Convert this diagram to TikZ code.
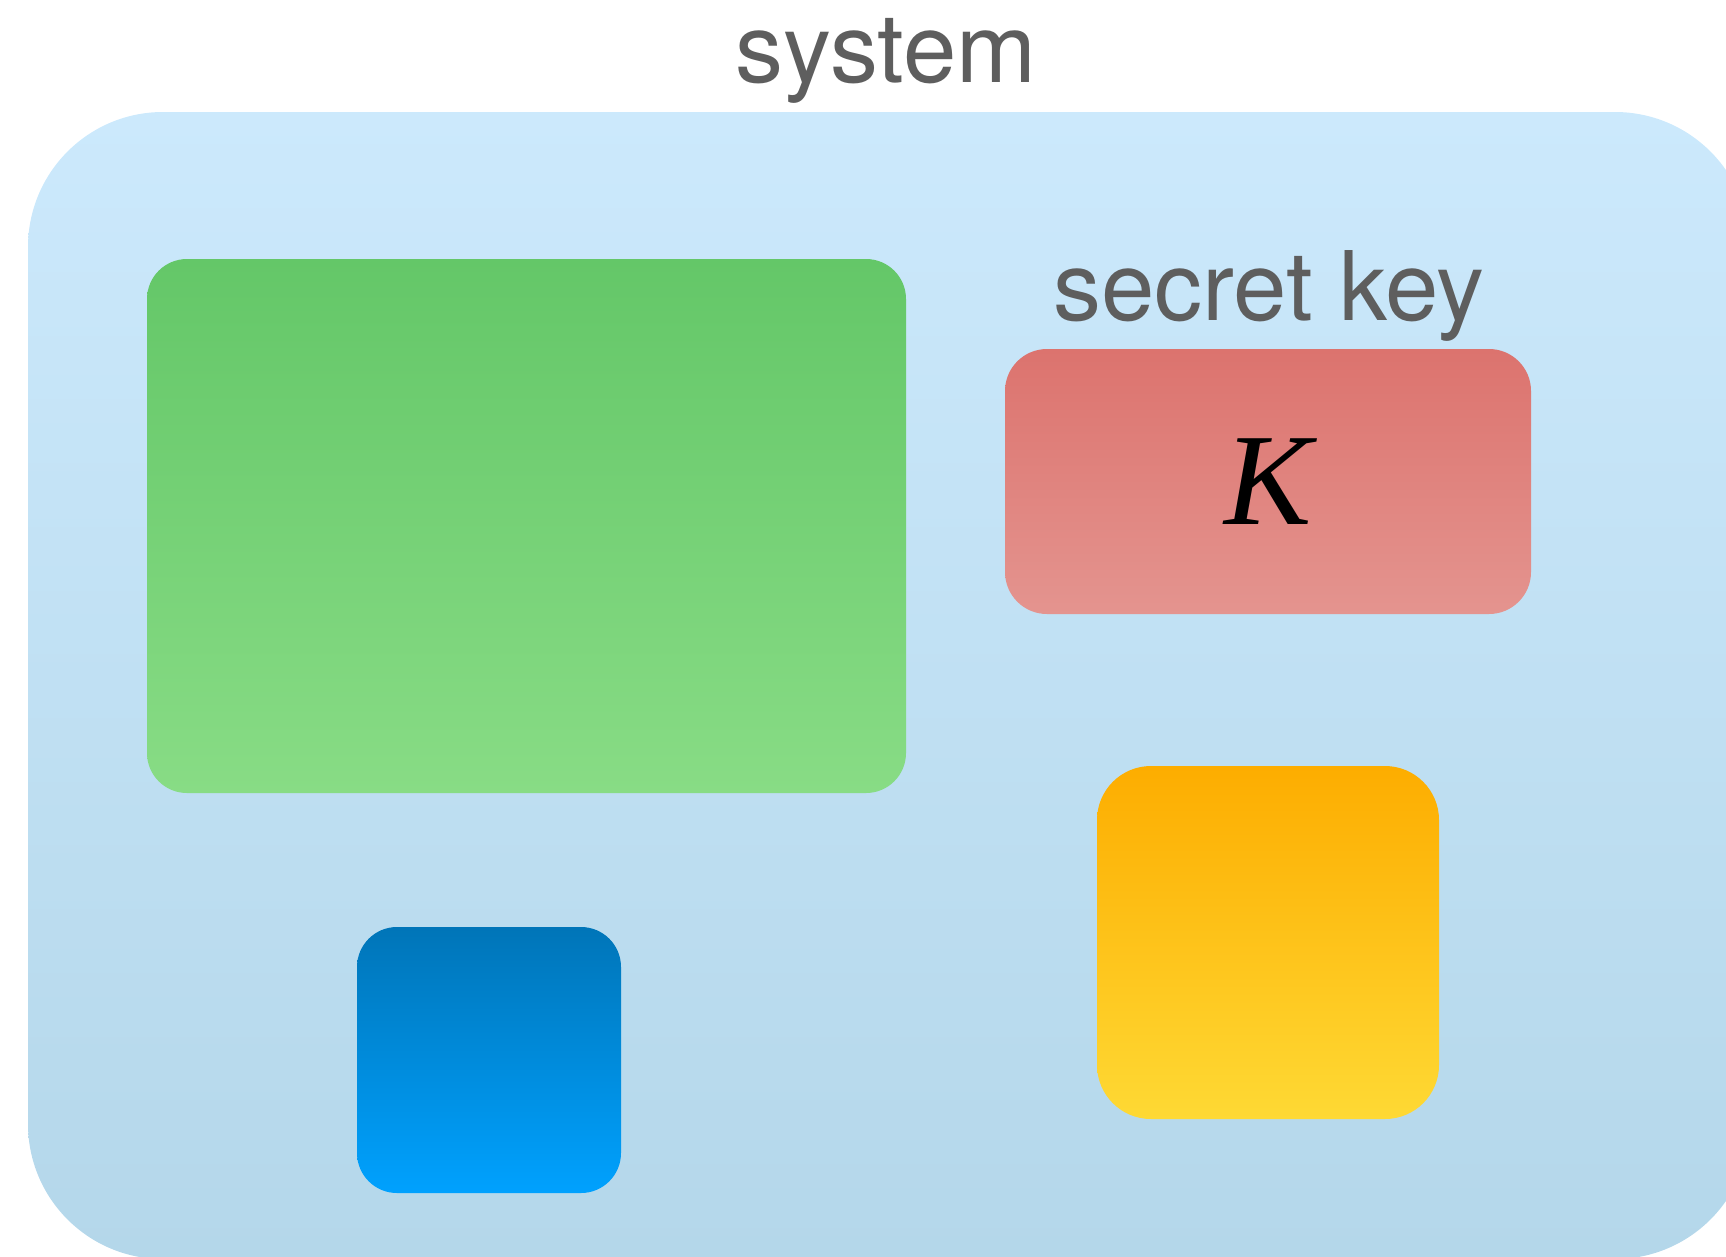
\documentclass[tikz,border=0pt]{standalone}
\usepackage{fontspec}
\setsansfont{TeX Gyre Heros}
\newfontfamily\keyfont{Liberation Serif}
\definecolor{labelgray}{HTML}{5E5E5E}
\definecolor{sysTop}{HTML}{CCE9FC}
\definecolor{sysBot}{HTML}{B4D7EA}
\definecolor{grnTop}{HTML}{64C768}
\definecolor{grnBot}{HTML}{88DC85}
\definecolor{redTop}{HTML}{DC736E}
\definecolor{redBot}{HTML}{E4948F}
\definecolor{bluTop}{HTML}{0075B8}
\definecolor{bluBot}{HTML}{00A1FE}
\definecolor{ylwTop}{HTML}{FDAD00}
\definecolor{ylwBot}{HTML}{FED934}
\tikzset{
  caption/.style={font=\sffamily\fontsize{96}{100}\selectfont, text=labelgray, anchor=base, inner sep=0pt},
  sysfill/.style={top color=sysTop, bottom color=sysBot},
  grnfill/.style={top color=grnTop, bottom color=grnBot},
  redfill/.style={top color=redTop, bottom color=redBot},
  blufill/.style={top color=bluTop, bottom color=bluBot},
  ylwfill/.style={top color=ylwTop, bottom color=ylwBot},
}
% \softbox{name}{x0}{y0}{x1}{y1}{corner radius}{fill style}
% clips to a rounded box, shades a slightly wider band inside it, and leaves
% an empty node of the same extent under the given name
\newcommand\softbox[7]{%
  \begin{scope}
    \clip[rounded corners=#6] (#2,#3) rectangle (#4,#5);
    \path[#7, draw=none] (#2-4,#3) rectangle (#4+4,#5);
  \end{scope}
  \node[inner sep=0pt, outer sep=0pt, minimum width={#4-#2}, minimum height={#5-#3}]
    (#1) at ({(#2+#4)/2},{(#3+#5)/2}) {};%
}
\begin{document}
\begin{tikzpicture}[x=1pt, y=-1pt]
  \useasboundingbox (0,0) rectangle (1726,1256);
  % outer system container
  \softbox{system}{28}{112}{1750}{1259}{135pt}{sysfill}
  \node[caption] (systemlabel) at (886,82) {system};
  % green block
  \softbox{green}{147}{259}{906}{793}{40pt}{grnfill}
  % secret key block
  \softbox{key}{1005}{349}{1531}{614}{42pt}{redfill}
  \node[caption] (keylabel) at (1269,320) {secret key};
  \node[inner sep=0pt] (K) at (key.center) {\keyfont\itshape\fontsize{131}{140}\selectfont K};
  % blue block
  \softbox{blue}{357}{927}{621}{1193}{40pt}{blufill}
  % yellow block
  \softbox{yellow}{1097}{766}{1439}{1119}{54pt}{ylwfill}
\end{tikzpicture}
\end{document}
